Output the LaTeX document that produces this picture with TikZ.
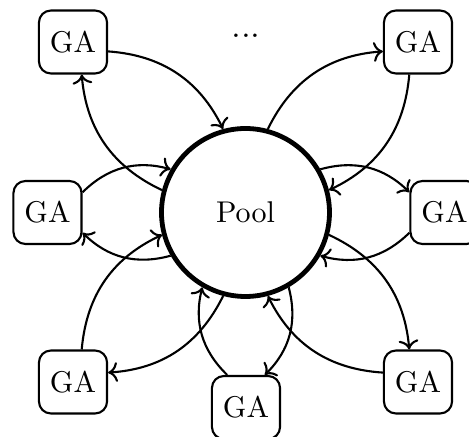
\documentclass[tikz,border=0pt]{standalone}
\usetikzlibrary{arrows.meta}

\tikzset{
  gabox/.style={draw, rounded corners=4pt, line width=0.7pt,
    minimum width=22.7pt, minimum height=21pt, inner sep=2pt},
  poolnode/.style={draw, circle, line width=1.6pt, minimum size=56pt},
  flow/.style={->, line width=0.7pt},
}

\begin{document}
\begin{tikzpicture}[x=1pt/3, y=1pt/3]
  \useasboundingbox (-245.5,-224.5) rectangle (223.5,212.5);

  % central pool
  \node[poolnode] (pool) at (0,0) {Pool};

  % the GA instances around it
  \node[gabox] (gaTL) at (-172.5,170.5) {GA};
  \node[gabox] (gaTR) at (172.5,170.5) {GA};
  \node[gabox] (gaL)  at (-198,0) {GA};
  \node[gabox] (gaR)  at (199,0) {GA};
  \node[gabox] (gaBL) at (-172.5,-169.5) {GA};
  \node[gabox] (gaB)  at (0.5,-195) {GA};
  \node[gabox] (gaBR) at (172.5,-169.5) {GA};

  \node (more) at (0.5,176.5) {\large ...};

  % each GA sends to the pool and receives from it
  \draw[flow] (gaTL.-15)  to[bend left] (pool.105);
  \draw[flow] (pool.165)  to[bend left] (gaTL.285);

  \draw[flow] (gaL.30)    to[bend left] (pool.150);
  \draw[flow] (pool.210)  to[bend left] (gaL.330);

  \draw[flow] (gaBL.75)   to[bend left] (pool.195);
  \draw[flow] (pool.255)  to[bend left] (gaBL.15);

  \draw[flow] (gaB.120)   to[bend left] (pool.240);
  \draw[flow] (pool.300)  to[bend left] (gaB.60);

  \draw[flow] (gaBR.165)  to[bend left] (pool.285);
  \draw[flow] (pool.345)  to[bend left] (gaBR.105);

  \draw[flow] (gaR.210)   to[bend left] (pool.330);
  \draw[flow] (pool.30)   to[bend left] (gaR.150);

  \draw[flow] (gaTR.255)  to[bend left] (pool.15);
  \draw[flow] (pool.75)   to[bend left] (gaTR.195);
\end{tikzpicture}
\end{document}
